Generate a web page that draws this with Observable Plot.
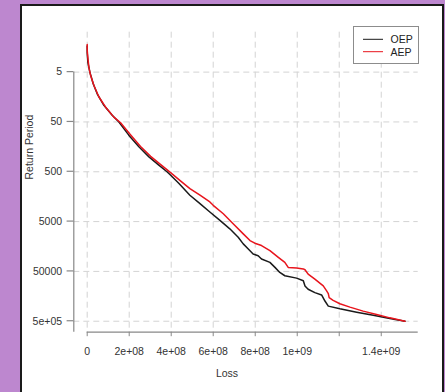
<!DOCTYPE html>
<html><head><meta charset="utf-8">
<script src="https://cdn.jsdelivr.net/npm/d3@7"></script>
<script src="https://cdn.jsdelivr.net/npm/@observablehq/plot@0.6"></script>
<style>
html,body{margin:0;padding:0;background:#bd87cf;width:445px;height:392px;overflow:hidden;}
#panel{position:absolute;left:20px;top:4px;width:420px;height:400px;background:#fff;border:2px solid #1a1a1a;}
#chart{position:absolute;left:0;top:0;}
#legend{position:absolute;left:352.5px;top:26px;width:64px;height:36px;border:1px solid #8c8c8c;background:#fff;font:10.5px "Liberation Sans",Arial,sans-serif;color:#222;}
#legend svg{position:absolute;left:0;top:0;}
#legend .lb{position:absolute;left:37px;line-height:12px;}
</style>
</head><body>
<div id="panel"></div>
<div id="chart"></div>
<div id="legend"></div>
<script>
// Data
const seriesNames = ["OEP", "AEP"];
const seriesColors = ["#1a1a1a", "#e8141c"];

const oepLoss = [0,0,3e6,1.27e7,2.86e7,4.76e7,7.94e7,1.19e8,1.51e8,1.98e8,
  2.46e8,2.94e8,3.41e8,3.8e8,4.0e8,4.37e8,4.89e8,5.37e8,5.84e8,6.32e8,
  6.79e8,7.19e8,7.43e8,7.67e8,7.90e8,8.14e8,8.30e8,8.70e8,8.94e8,9.17e8,
  9.41e8,9.97e8,1.029e9,1.037e9,1.052e9,1.084e9,1.116e9,1.132e9,1.148e9,1.203e9,
  1.283e9,1.362e9,1.441e9,1.513e9];
const oepRP = [1.5,2.0,3.15,5.0,8.55,13.6,23.2,36.8,50,92,
  158,251,368,500,600,857,1479,2182,3215,4735,
  6980,10280,14020,17700,22330,24150,28200,32900,41500,52400,
  61100,68200,77200,97700,114000,133300,148500,196600,248500,281200,
  328900,377700,441700,500000];

const aepLoss = [0,0,2e6,8e6,1.6e7,3.2e7,5.6e7,8.7e7,1.27e8,1.59e8,
  2.06e8,2.54e8,3.02e8,3.5e8,3.97e8,4.44e8,4.89e8,5.37e8,5.84e8,6.0e8,
  6.48e8,6.95e8,7.43e8,7.75e8,7.98e8,8.30e8,8.70e8,9.10e8,9.41e8,9.57e8,
  9.97e8,1.029e9,1.037e9,1.052e9,1.084e9,1.124e9,1.140e9,1.148e9,1.152e9,1.171e9,
  1.203e9,1.251e9,1.314e9,1.378e9,1.441e9,1.513e9];
const aepRP = [1.4,1.8,2.3,4.0,5.8,9.3,15.8,25,40,52,
  90,155,245,360,520,760,1086,1479,2018,2356,
  3474,5534,8810,12000,13580,15140,19100,26050,32900,41500,
  42800,44500,46200,56600,71400,97700,123000,139600,168300,190600,
  222700,260200,313500,366200,427700,500000];

const xTicks = [0,2e8,4e8,6e8,8e8,1e9,1.2e9,1.4e9];
const xTickLabels = ["0","2e+08","4e+08","6e+08","8e+08","1e+09","","1.4e+09"];
const yTicks = [5,50,500,5000,50000,500000];
const yTickLabels = ["5","50","500","5000","50000","5e+05"];

const xDomain = [-6.38e7, 1.576e9];
const yDomain = [0.79, 8.3e5];

const oep = oepLoss.map((l, i) => ({loss: l, rp: oepRP[i], s: "OEP"}));
const aep = aepLoss.map((l, i) => ({loss: l, rp: aepRP[i], s: "AEP"}));
const yTickData = yTicks.map((t, i) => ({v: t, label: yTickLabels[i]}));

function nearestLabel(ticks, labels, d) {
  let best = 0, bd = Infinity;
  ticks.forEach((t, i) => { const dist = Math.abs(t - d); if (dist < bd) { bd = dist; best = i; } });
  return labels[best];
}

const font = '"Liberation Sans", Arial, Helvetica, sans-serif';
const gridStyle = {stroke: "#d3d3d3", strokeOpacity: 1, strokeDasharray: "6,4", strokeWidth: 1};

const chart = Plot.plot({
  width: 445, height: 392,
  marginLeft: 73.3, marginRight: 27.3, marginTop: 31.7, marginBottom: 60.3,
  x: {type: "linear", domain: xDomain},
  y: {type: "log", domain: yDomain, reverse: true, axis: null},
  style: {background: "transparent", fontFamily: font, fontSize: "10.5px", overflow: "visible"},
  marks: [
    Plot.gridX({ticks: xTicks, ...gridStyle}),
    Plot.gridY({ticks: yTicks, ...gridStyle}),
    Plot.ruleY([yDomain[1]], {x1: xTicks[0], x2: xDomain[1], stroke: "#888", strokeWidth: 1.2}),
    Plot.ruleX([xDomain[0]], {y1: yTicks[0], y2: yDomain[1], stroke: "#888", strokeWidth: 1.2}),
    Plot.axisX({ticks: xTicks, tickFormat: d => nearestLabel(xTicks, xTickLabels, d), tickSize: 4.5, tickPadding: 11,
      stroke: "#888", fill: "#333", fontSize: 10.5, label: null}),
    Plot.text(yTickData, {y: "v", text: "label", frameAnchor: "left", textAnchor: "end", dx: -11.7,
      fill: "#333", fontSize: 10.5}),
    Plot.line(oep, {x: "loss", y: "rp", stroke: seriesColors[0], strokeWidth: 1.5}),
    Plot.line(aep, {x: "loss", y: "rp", stroke: seriesColors[1], strokeWidth: 1.5}),
    Plot.text(["Loss"], {text: d => d, frameAnchor: "bottom", dx: -19, dy: 44.3, fill: "#333", fontSize: 10.5}),
    Plot.text(["Return Period"], {text: d => d, frameAnchor: "left", rotate: -90, dx: -44, dy: -2.7, fill: "#333", fontSize: 10.5})
  ]
});
// y tick marks (short strokes left of the axis), placed through the plot's y scale
const yScale = chart.scale("y");
d3.select(chart).append("g").attr("stroke", "#888").attr("stroke-width", 1.2)
  .selectAll("line").data(yTicks).join("line")
  .attr("x1", 73.3 - 6.7).attr("x2", 73.3)
  .attr("y1", d => yScale.apply(d)).attr("y2", d => yScale.apply(d));
document.getElementById("chart").appendChild(chart);

// Legend
const legend = document.getElementById("legend");
const lsvg = d3.select(legend).append("svg").attr("width", 64).attr("height", 36);
seriesNames.forEach((name, i) => {
  const cy = 12.3 + i * 12.4;
  lsvg.append("line").attr("x1", 9).attr("x2", 29).attr("y1", cy).attr("y2", cy)
    .attr("stroke", seriesColors[i]).attr("stroke-width", 1);
  const lb = document.createElement("div");
  lb.className = "lb";
  lb.style.top = (cy - 6) + "px";
  lb.textContent = name;
  legend.appendChild(lb);
});
</script>
</body></html>
